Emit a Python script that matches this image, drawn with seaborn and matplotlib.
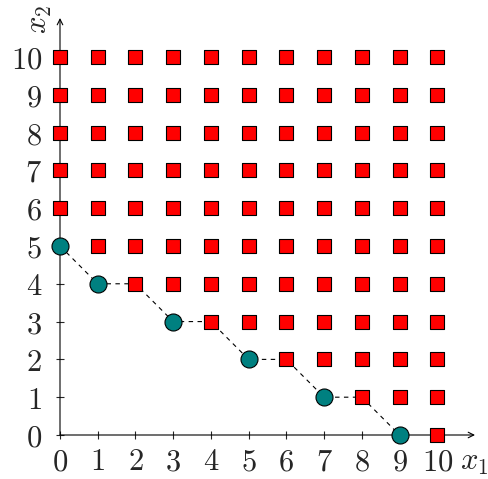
import matplotlib
matplotlib.use("Agg")
import matplotlib.pyplot as plt
import seaborn as sns
import pandas as pd

# staircase (circles) and dashed path
circle_x = [0, 1, 3, 5, 7, 9]
circle_y = [5, 4, 3, 2, 1, 0]
path_x = [0, 1, 2, 3, 4, 5, 6, 7, 8, 9]
path_y = [5, 4, 4, 3, 3, 2, 2, 1, 1, 0]

# first red column per row (rows 0..10)
rows = [0, 1, 2, 3, 4, 5, 6, 7, 8, 9, 10]
row_start = [10, 8, 6, 4, 2, 1, 0, 0, 0, 0, 0]
ticks = [0, 1, 2, 3, 4, 5, 6, 7, 8, 9, 10]

squares = pd.DataFrame(
    [(x, y) for y, s in zip(rows, row_start) for x in range(s, 11)],
    columns=["x", "y"],
)
circles = pd.DataFrame({"x": circle_x, "y": circle_y})
path = pd.DataFrame({"x": path_x, "y": path_y})

sns.set_style("white")
plt.rcParams["mathtext.fontset"] = "cm"

fig = plt.figure(figsize=(4.88, 4.79), dpi=100)
ax = fig.add_axes([60 / 488, 44 / 479, 415 / 488, 417 / 479])
ax.set_xlim(0, 11.0)
ax.set_ylim(0, 11.03)

sns.lineplot(data=path, x="x", y="y", sort=False, color="black",
             linestyle=(0, (4, 4)), linewidth=0.8, ax=ax, zorder=3)
sns.scatterplot(data=squares, x="x", y="y", marker="s", s=95,
                color="red", edgecolor="black", linewidth=0.8,
                ax=ax, zorder=4, clip_on=False)
sns.scatterplot(data=circles, x="x", y="y", marker="o", s=150,
                color="#008080", edgecolor="black", linewidth=0.8,
                ax=ax, zorder=5, clip_on=False)

for sp in ax.spines.values():
    sp.set_visible(False)
ax.annotate("", xy=(11.0, 0), xytext=(0, 0), xycoords="data",
            arrowprops=dict(arrowstyle="->", lw=0.8, color="black",
                            shrinkA=0, shrinkB=0), annotation_clip=False)
ax.annotate("", xy=(0, 11.03), xytext=(0, 0), xycoords="data",
            arrowprops=dict(arrowstyle="->", lw=0.8, color="black",
                            shrinkA=0, shrinkB=0), annotation_clip=False)

ax.set_xticks(ticks)
ax.set_yticks(ticks)
ax.set_xticklabels([f"${t}$" for t in ticks])
ax.set_yticklabels([f"${t}$" for t in ticks])
ax.tick_params(direction="inout", length=6, width=0.8, labelsize=22,
               bottom=True, left=True)
ax.tick_params(axis="x", pad=6)
ax.tick_params(axis="y", pad=10)
ax.set_xlabel("")
ax.set_ylabel("")
ax.text(10.6, -0.72, "$x_1$", fontsize=22, ha="left", va="center")
ax.text(-0.55, 10.98, "$x_2$", fontsize=22, ha="center", va="center",
        rotation=90)

plt.savefig("out.png", dpi=100)
